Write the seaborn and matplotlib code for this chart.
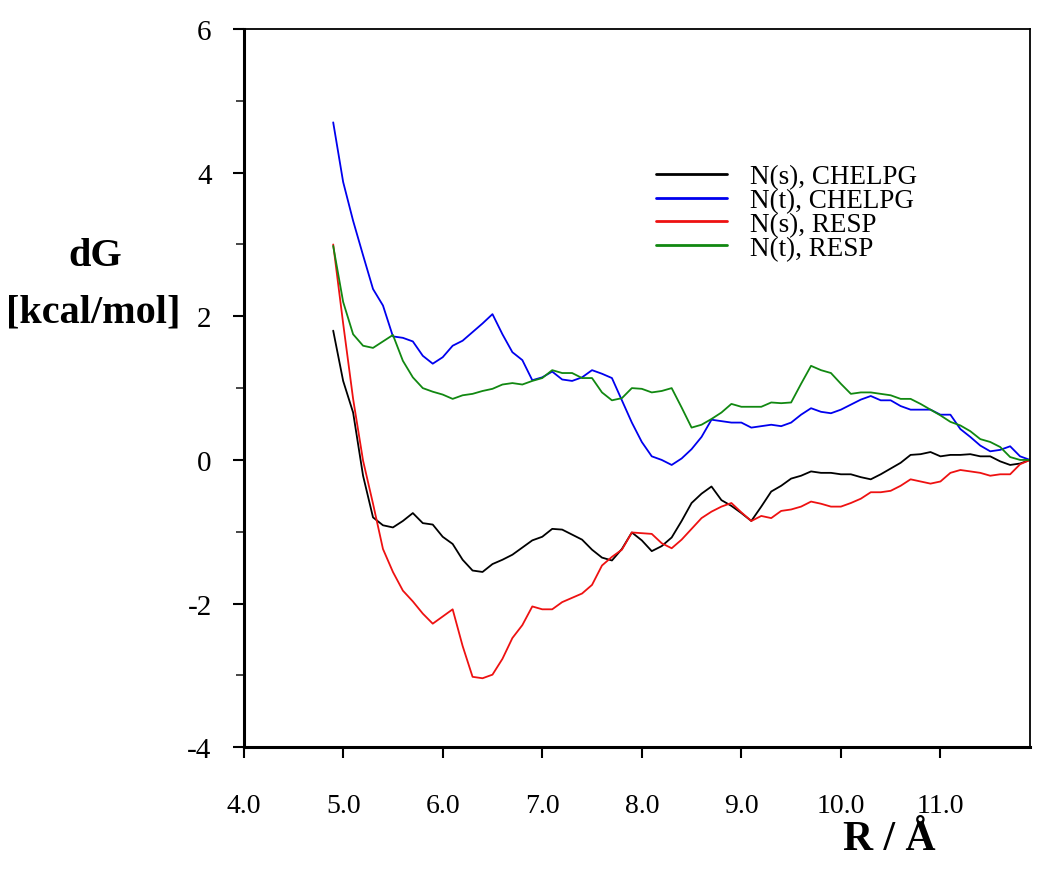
import matplotlib
matplotlib.use('Agg')
import matplotlib.pyplot as plt
from matplotlib.ticker import MultipleLocator
import pandas as pd
import seaborn as sns

# distance R in Angstrom
r = [4.9, 5.0, 5.1, 5.2, 5.3, 5.4, 5.5, 5.6, 5.7, 5.8, 5.9,
     6.0, 6.1, 6.2, 6.3, 6.4, 6.5, 6.6, 6.7, 6.8, 6.9,
     7.0, 7.1, 7.2, 7.3, 7.4, 7.5, 7.6, 7.7, 7.8, 7.9,
     8.0, 8.1, 8.2, 8.3, 8.4, 8.5, 8.6, 8.7, 8.8, 8.9,
     9.0, 9.1, 9.2, 9.3, 9.4, 9.5, 9.6, 9.7, 9.8, 9.9,
     10.0, 10.1, 10.2, 10.3, 10.4, 10.5, 10.6, 10.7, 10.8, 10.9,
     11.0, 11.1, 11.2, 11.3, 11.4, 11.5, 11.6, 11.7, 11.8, 11.9]

ns_chelpg = [1.80, 1.10, 0.66, -0.22, -0.80, -0.91, -0.94, -0.85, -0.74, -0.88, -0.90,
             -1.07, -1.17, -1.39, -1.54, -1.56, -1.45, -1.39, -1.32, -1.22, -1.12,
             -1.07, -0.96, -0.97, -1.04, -1.11, -1.25, -1.36, -1.40, -1.24, -1.01,
             -1.12, -1.27, -1.20, -1.08, -0.85, -0.60, -0.47, -0.37, -0.56, -0.64,
             -0.74, -0.85, -0.65, -0.44, -0.36, -0.26, -0.22, -0.16, -0.18, -0.18,
             -0.20, -0.20, -0.24, -0.27, -0.20, -0.12, -0.04, 0.07, 0.08, 0.11,
             0.05, 0.07, 0.07, 0.08, 0.05, 0.05, -0.02, -0.07, -0.05, 0.00]

nt_chelpg = [4.70, 3.87, 3.33, 2.85, 2.38, 2.15, 1.72, 1.70, 1.65, 1.45, 1.34,
             1.43, 1.59, 1.66, 1.78, 1.90, 2.03, 1.75, 1.50, 1.39, 1.11,
             1.15, 1.23, 1.12, 1.10, 1.15, 1.25, 1.20, 1.14, 0.83, 0.52,
             0.25, 0.05, 0.00, -0.07, 0.02, 0.15, 0.32, 0.56, 0.54, 0.52,
             0.52, 0.45, 0.47, 0.49, 0.47, 0.52, 0.63, 0.72, 0.67, 0.65,
             0.70, 0.77, 0.84, 0.89, 0.83, 0.83, 0.75, 0.70, 0.70, 0.70,
             0.63, 0.63, 0.43, 0.32, 0.20, 0.12, 0.14, 0.19, 0.05, 0.00]

ns_resp = [3.00, 1.90, 0.85, -0.01, -0.61, -1.24, -1.56, -1.82, -1.97, -2.14, -2.28,
           -2.18, -2.08, -2.59, -3.02, -3.04, -2.99, -2.77, -2.48, -2.30, -2.04,
           -2.08, -2.08, -1.98, -1.92, -1.86, -1.74, -1.47, -1.35, -1.25, -1.01,
           -1.02, -1.03, -1.16, -1.23, -1.11, -0.96, -0.81, -0.72, -0.65, -0.60,
           -0.73, -0.85, -0.78, -0.81, -0.71, -0.69, -0.65, -0.58, -0.61, -0.65,
           -0.65, -0.60, -0.54, -0.45, -0.45, -0.43, -0.36, -0.27, -0.30, -0.33,
           -0.30, -0.18, -0.14, -0.16, -0.18, -0.22, -0.20, -0.20, -0.06, 0.00]

nt_resp = [2.98, 2.20, 1.75, 1.59, 1.56, 1.65, 1.74, 1.38, 1.15, 1.00, 0.95,
           0.91, 0.85, 0.90, 0.92, 0.96, 0.99, 1.05, 1.07, 1.05, 1.10,
           1.14, 1.25, 1.21, 1.21, 1.14, 1.14, 0.94, 0.83, 0.86, 1.00,
           0.99, 0.94, 0.96, 1.00, 0.73, 0.45, 0.49, 0.57, 0.66, 0.78,
           0.74, 0.74, 0.74, 0.80, 0.79, 0.80, 1.06, 1.31, 1.25, 1.21,
           1.06, 0.92, 0.94, 0.94, 0.92, 0.90, 0.85, 0.85, 0.78, 0.70,
           0.62, 0.53, 0.48, 0.40, 0.29, 0.25, 0.18, 0.04, 0.00, 0.00]

labels = ['N(s), CHELPG', 'N(t), CHELPG', 'N(s), RESP', 'N(t), RESP']
colors = ['black', '#0000ee', '#ee1111', '#118811']
xtick_labels = ['4.0', '5.0', '6.0', '7.0', '8.0', '9.0', '10.0', '11.0']

frames = []
for lab, vals in zip(labels, [ns_chelpg, nt_chelpg, ns_resp, nt_resp]):
    frames.append(pd.DataFrame({'R': r, 'dG': vals, 'set': lab}))
df = pd.concat(frames, ignore_index=True)

sns.set_style('ticks')
plt.rcParams['font.family'] = ['Liberation Serif', 'DejaVu Serif']
plt.rcParams['axes.unicode_minus'] = False
plt.rcParams['text.color'] = 'black'

fig = plt.figure(figsize=(10.5, 8.7), dpi=100)
ax = fig.add_axes([0.232, 0.140, 0.749, 0.8255])

sns.lineplot(data=df, x='R', y='dG', hue='set', hue_order=labels,
             palette=colors, linewidth=1.3, ax=ax, sort=False)

ax.set_xlim(4.0, 11.9)
ax.set_ylim(-4, 6)
ax.set_xticks([4, 5, 6, 7, 8, 9, 10, 11])
ax.set_xticklabels(xtick_labels)
ax.set_yticks([-4, -2, 0, 2, 4, 6])
ax.yaxis.set_minor_locator(MultipleLocator(1))
ax.tick_params(axis='both', which='major', direction='out',
               length=8, width=1.5, colors='black')
ax.tick_params(axis='y', which='major', pad=15, labelsize=21)
ax.tick_params(axis='x', which='major', pad=25, labelsize=20)
ax.tick_params(axis='y', which='minor', direction='out', length=6, width=1.2)

for side in ['left', 'bottom']:
    ax.spines[side].set_linewidth(2.2)
for side in ['top', 'right']:
    ax.spines[side].set_linewidth(1.3)
for s in ax.spines.values():
    s.set_color('black')

ax.set_xlabel('')
ax.set_ylabel('')
fig.text(0.091, 0.705, 'dG', fontsize=29, fontweight='bold', ha='center', va='center')
fig.text(0.089, 0.640, '[kcal/mol]', fontsize=29, fontweight='bold', ha='center', va='center')
fig.text(0.847, 0.034, 'R / Å', fontsize=30, fontweight='bold', ha='center', va='center')

leg = ax.legend(loc='upper left', bbox_to_anchor=(0.525, 0.812), frameon=False,
                fontsize=19.5, handlelength=2.6, handletextpad=0.85,
                labelspacing=-0.04, borderpad=0, borderaxespad=0)
for line in leg.get_lines():
    line.set_linewidth(2.0)

fig.savefig('out.png', dpi=100)
